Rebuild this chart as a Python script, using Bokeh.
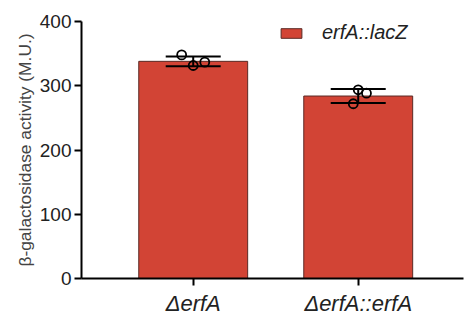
from bokeh.plotting import figure
from bokeh.models import Range1d, FixedTicker, ColumnDataSource, Whisker, Legend, LegendItem, TeeHead, Title
from bokeh.embed import file_html
from bokeh.resources import INLINE

categories = ["\u0394erfA", "\u0394erfA::erfA"]
means = [338, 284]
sds = [7.5, 11]
points_x = [0, 0, 0, 1, 1, 1]
points_y = [348, 331.5, 336.7, 293.7, 288.4, 272]
points_jitter = [-0.07, 0.0, 0.07, 0.0, 0.05, -0.03]
series_name = "erfA::lacZ"
y_title = "\u03b2-galactosidase activity (M.U.)"

FONT = "Liberation Sans"

p = figure(width=465, height=320, output_backend="svg", toolbar_location=None,
           x_range=Range1d(-0.677, 1.638), y_range=Range1d(0, 400),
           min_border_left=81, min_border_top=21, min_border_bottom=42, min_border_right=2)
p.outline_line_color = None
p.grid.visible = False
p.background_fill_color = "white"

xs = list(range(len(categories)))
src = ColumnDataSource(dict(x=xs, top=means,
                            upper=[m + s for m, s in zip(means, sds)],
                            lower=[m - s for m, s in zip(means, sds)]))
bars = p.vbar(x="x", top="top", width=0.66, source=src, fill_color="#d24435",
              line_color="#5a2a25", line_width=1)

w = Whisker(base="x", upper="upper", lower="lower", source=src, line_width=2, line_color="black",
            level="overlay",
            upper_head=TeeHead(size=55, line_width=2, line_color="black"),
            lower_head=TeeHead(size=55, line_width=2, line_color="black"))
p.add_layout(w)

px = [x + j for x, j in zip(points_x, points_jitter)]
sc = p.scatter(px, points_y, size=9, fill_color=None, line_color="black", line_width=1.8)
sc.level = "overlay"

legend = Legend(items=[LegendItem(label=series_name, renderers=[bars])],
                border_line_color=None, background_fill_alpha=0,
                label_text_font=FONT, label_text_font_style="italic", label_text_font_size="20px",
                label_text_color="#222222", glyph_width=26, glyph_height=12, margin=0,
                padding=4, label_standoff=18)
legend.location = (197, 234)
p.add_layout(legend, "center")

p.yaxis.ticker = FixedTicker(ticks=[0, 100, 200, 300, 400])
p.xaxis.ticker = FixedTicker(ticks=xs)
p.xaxis.major_label_overrides = {i: c for i, c in enumerate(categories)}
for ax in (p.xaxis, p.yaxis):
    ax.axis_line_width = 2
    ax.axis_line_color = "black"
    ax.major_tick_line_width = 2
    ax.major_tick_line_color = "black"
    ax.major_tick_out = 7
    ax.major_tick_in = 0
    ax.minor_tick_line_color = None
    ax.major_label_text_font = FONT
    ax.major_label_text_color = "#222222"
p.yaxis.major_label_text_font_size = "19px"
p.xaxis.major_label_text_font_size = "22px"
p.xaxis.major_label_text_font_style = "italic"
p.yaxis.major_label_standoff = 3
p.xaxis.major_label_standoff = 5

ytitle = Title(text=y_title, align="center", offset=-14, text_font=FONT,
               text_font_style="normal", text_font_size="17.4px", text_color="#444444",
               standoff=4)
p.add_layout(ytitle, "left")

open("out.html", "w").write(file_html(p, INLINE))
